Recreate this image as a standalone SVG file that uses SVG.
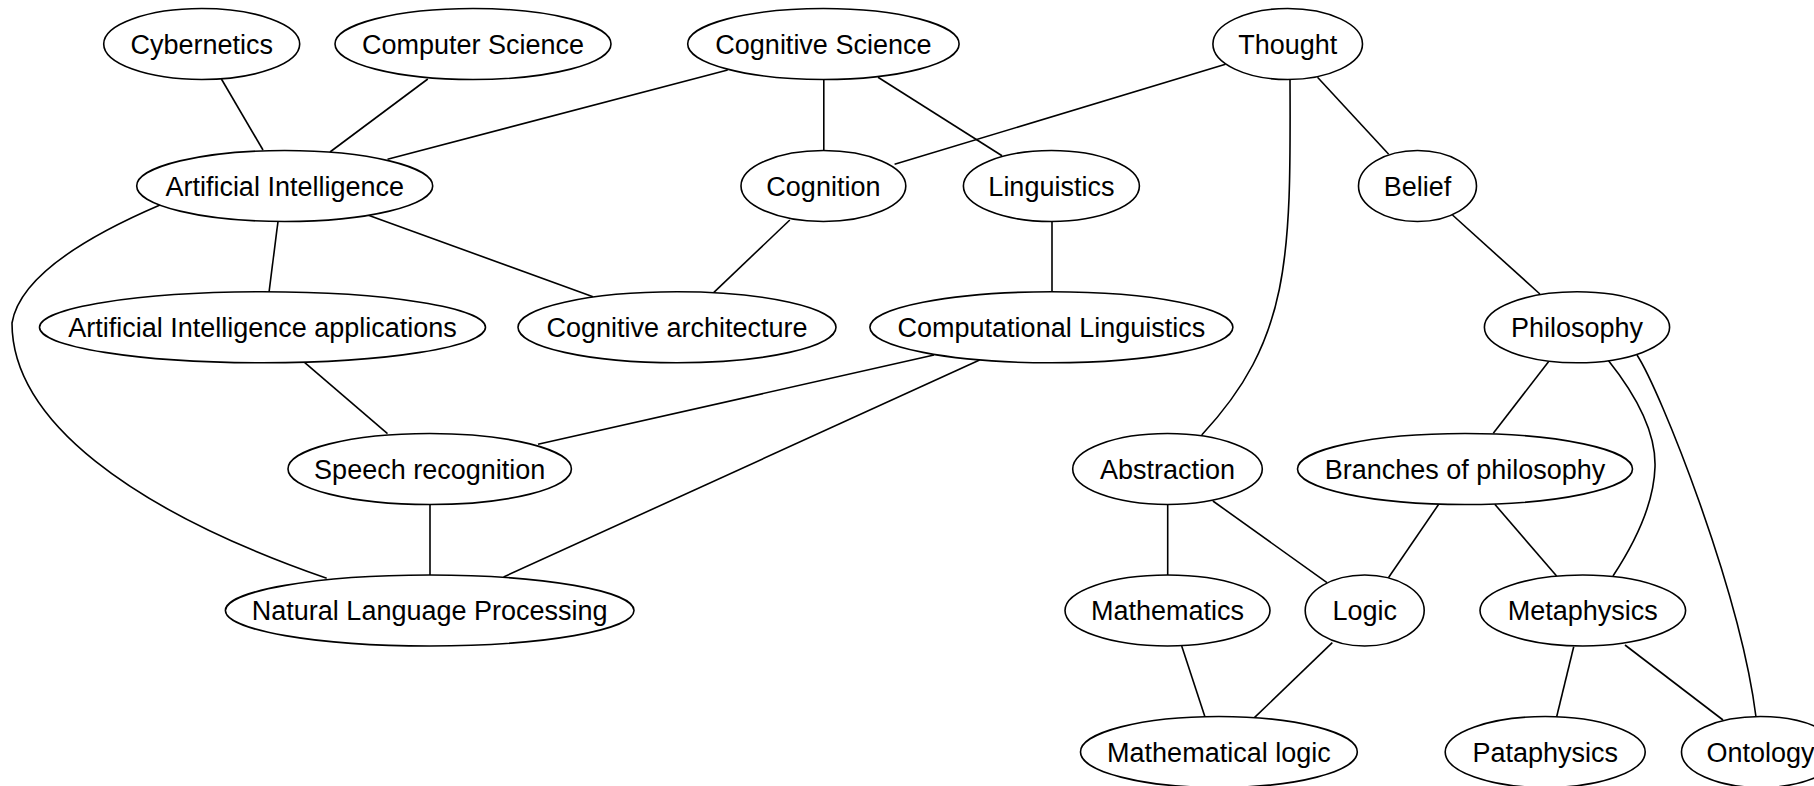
<svg xmlns="http://www.w3.org/2000/svg" width="1814" height="786" viewBox="0 0 1814 786">
<style>
.n ellipse{fill:#fff;stroke:#000;stroke-width:1.6}
.n text{font-family:"Liberation Sans",Arial,sans-serif;font-size:27px;text-anchor:middle;fill:#000}
#edges path,#edges line{stroke:#000;stroke-width:1.6;fill:none}
</style>
<rect width="1814" height="786" fill="#fff"/>
<g id="edges">
<line x1="221.4" y1="79" x2="263" y2="150"/>
<line x1="427.8" y1="79" x2="330" y2="152"/>
<line x1="727.7" y1="70" x2="387.5" y2="159.3"/>
<line x1="823.8" y1="79" x2="823.8" y2="151"/>
<line x1="878" y1="77.3" x2="1002" y2="155.7"/>
<line x1="1225.5" y1="64.3" x2="894.6" y2="164.3"/>
<line x1="1317.5" y1="77.3" x2="1388.7" y2="154.3"/>
<path d="M1290,79 C1291,260 1290,340 1201.7,435"/>
<line x1="278" y1="221.3" x2="269" y2="292.3"/>
<line x1="367.7" y1="215" x2="593" y2="296.7"/>
<path d="M160,205 C90,235 20,275 12,323 C12,420 130,510 326.7,578.3"/>
<line x1="789.8" y1="220" x2="713.9" y2="292.3"/>
<line x1="1052" y1="221" x2="1052" y2="292"/>
<line x1="1452.5" y1="215" x2="1539.9" y2="294"/>
<line x1="304.5" y1="362.3" x2="387.5" y2="433.7"/>
<line x1="934" y1="355" x2="538" y2="444.3"/>
<line x1="979.6" y1="360" x2="503.6" y2="577"/>
<line x1="1548.5" y1="361.7" x2="1493.3" y2="433.3"/>
<path d="M1608,360 C1640,400 1656,435 1655,467 C1654,500 1640,535 1613,576"/>
<path d="M1637,355 C1660,390 1740,590 1756,717"/>
<line x1="430" y1="504" x2="430" y2="575"/>
<line x1="1167.7" y1="504.3" x2="1167.7" y2="575"/>
<line x1="1212.9" y1="501" x2="1327" y2="582.7"/>
<line x1="1438.7" y1="504.3" x2="1388.4" y2="577.7"/>
<line x1="1494.8" y1="504.3" x2="1556.6" y2="576"/>
<line x1="1181.7" y1="646" x2="1205" y2="717"/>
<line x1="1332.3" y1="642.7" x2="1254.4" y2="717.7"/>
<line x1="1573.7" y1="646.7" x2="1556.6" y2="717"/>
<line x1="1625" y1="645" x2="1723" y2="720"/>
</g>
<g id="cybernetics" class="n"><ellipse cx="201.7" cy="44" rx="98" ry="35.5"/><text x="201.7" y="53.5">Cybernetics</text></g>
<g id="computer-science" class="n"><ellipse cx="473" cy="44" rx="138" ry="35.5"/><text x="473" y="53.5">Computer Science</text></g>
<g id="cognitive-science" class="n"><ellipse cx="823.4" cy="44" rx="135.7" ry="35.5"/><text x="823.4" y="53.5">Cognitive Science</text></g>
<g id="thought" class="n"><ellipse cx="1287.7" cy="44" rx="74.8" ry="35.5"/><text x="1287.7" y="53.5">Thought</text></g>
<g id="artificial-intelligence" class="n"><ellipse cx="284.7" cy="186" rx="148" ry="35.5"/><text x="284.7" y="195.5">Artificial Intelligence</text></g>
<g id="cognition" class="n"><ellipse cx="823.4" cy="186" rx="82.4" ry="35.5"/><text x="823.4" y="195.5">Cognition</text></g>
<g id="linguistics" class="n"><ellipse cx="1051.4" cy="186" rx="88" ry="35.5"/><text x="1051.4" y="195.5">Linguistics</text></g>
<g id="belief" class="n"><ellipse cx="1417.5" cy="186" rx="59" ry="35.5"/><text x="1417.5" y="195.5">Belief</text></g>
<g id="ai-applications" class="n"><ellipse cx="262.5" cy="327.3" rx="223" ry="35.5"/><text x="262.5" y="336.8">Artificial Intelligence applications</text></g>
<g id="cognitive-architecture" class="n"><ellipse cx="677" cy="327.3" rx="159" ry="35.5"/><text x="677" y="336.8">Cognitive architecture</text></g>
<g id="computational-linguistics" class="n"><ellipse cx="1051.4" cy="327.3" rx="181.5" ry="35.5"/><text x="1051.4" y="336.8">Computational Linguistics</text></g>
<g id="philosophy" class="n"><ellipse cx="1577" cy="327.3" rx="92.6" ry="35.5"/><text x="1577" y="336.8">Philosophy</text></g>
<g id="speech-recognition" class="n"><ellipse cx="429.7" cy="469" rx="141.7" ry="35.5"/><text x="429.7" y="478.5">Speech recognition</text></g>
<g id="abstraction" class="n"><ellipse cx="1167.5" cy="469" rx="94.8" ry="35.5"/><text x="1167.5" y="478.5">Abstraction</text></g>
<g id="branches-of-philosophy" class="n"><ellipse cx="1465" cy="469" rx="167.5" ry="35.5"/><text x="1465" y="478.5">Branches of philosophy</text></g>
<g id="nlp" class="n"><ellipse cx="429.7" cy="610.5" rx="204.3" ry="35.5"/><text x="429.7" y="620">Natural Language Processing</text></g>
<g id="mathematics" class="n"><ellipse cx="1167.5" cy="610.5" rx="102.5" ry="35.5"/><text x="1167.5" y="620">Mathematics</text></g>
<g id="logic" class="n"><ellipse cx="1364.7" cy="610.5" rx="59.5" ry="35.5"/><text x="1364.7" y="620">Logic</text></g>
<g id="metaphysics" class="n"><ellipse cx="1582.8" cy="610.5" rx="102.8" ry="35.5"/><text x="1582.8" y="620">Metaphysics</text></g>
<g id="mathematical-logic" class="n"><ellipse cx="1218.9" cy="752" rx="138.4" ry="35.5"/><text x="1218.9" y="761.5">Mathematical logic</text></g>
<g id="pataphysics" class="n"><ellipse cx="1545.2" cy="752" rx="100" ry="35.5"/><text x="1545.2" y="761.5">Pataphysics</text></g>
<g id="ontology" class="n"><ellipse cx="1760.5" cy="752" rx="79" ry="35.5"/><text x="1760.5" y="761.5">Ontology</text></g>
</svg>
